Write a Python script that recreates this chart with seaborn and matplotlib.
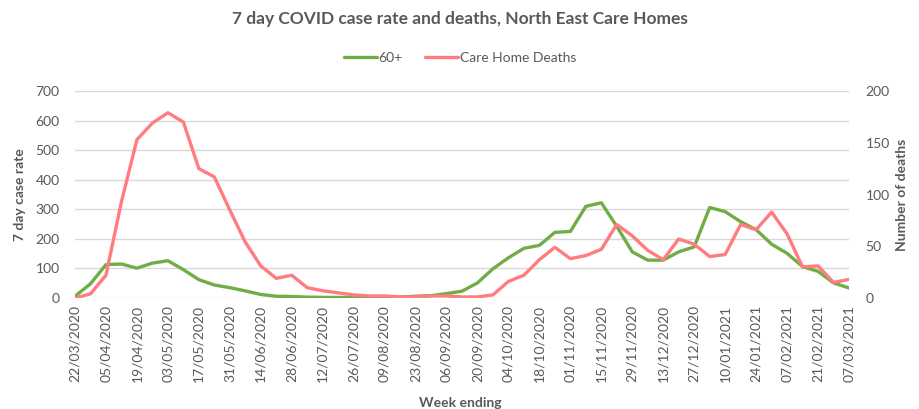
import numpy as np
import pandas as pd
import matplotlib
matplotlib.use("Agg")
import matplotlib.pyplot as plt
import matplotlib.dates as mdates
import seaborn as sns

# ---- data ----
week_ending = pd.date_range("2020-03-22", "2021-03-07", freq="7D")
case_rate_60plus = [6, 48, 113, 115, 101, 118, 126, 96, 62, 44,
                    35, 24, 12, 6, 5, 3, 2, 2, 2, 2,
                    2, 3, 6, 8, 15, 23, 51, 99, 136, 168,
                    178, 222, 225, 310, 322, 242, 156, 128, 128, 156,
                    173, 306, 292, 258, 231, 182, 151, 106, 90, 51,
                    34]
care_home_deaths = [0, 4, 22, 93, 153, 169, 179, 170, 125, 117,
                    85, 54, 31, 19, 22, 10, 7, 5, 3, 2,
                    2, 1, 1, 2, 2, 1, 1, 3, 16, 22,
                    37, 49, 38, 41, 47, 71, 60, 46, 37, 57,
                    52, 40, 42, 71, 66, 83, 62, 30, 31, 15,
                    18]
series_names = ["60+", "Care Home Deaths"]
title = "7 day COVID case rate and deaths, North East Care Homes"

df = pd.DataFrame({"week": week_ending,
                   "cases": case_rate_60plus,
                   "deaths": care_home_deaths})

# ---- style ----
sns.set_theme(style="white")
plt.rcParams["font.family"] = ["Lato", "DejaVu Sans"]
grey = "#595959"
green = "#70AD47"
red = "#FF7C80"

W, H = 919, 409
fig = plt.figure(figsize=(W / 100, H / 100), dpi=100)
ax = fig.add_axes([75 / W, 1 - 298 / H, (849 - 75) / W, (298 - 91) / H])
ax2 = ax.twinx()

sns.lineplot(data=df, x="week", y="cases", ax=ax, color=green, lw=2.4,
             label=series_names[0], legend=False)
sns.lineplot(data=df, x="week", y="deaths", ax=ax2, color=red, lw=2.4,
             label=series_names[1], legend=False)

ax.set_xlim(week_ending[0], week_ending[-1])
ax.set_ylim(0, 700)
ax2.set_ylim(0, 200)
ax.set_yticks(np.arange(0, 701, 100))
ax2.set_yticks(np.arange(0, 201, 50))
ax.set_xticks(week_ending[::2])
ax.set_xticklabels([d.strftime("%d/%m/%Y") for d in week_ending[::2]],
                   rotation=90, fontsize=10, color=grey)
ax.yaxis.grid(True, color="#d9d9d9", lw=1)
ax.xaxis.grid(False)
for a in (ax, ax2):
    for s in a.spines.values():
        s.set_visible(False)
ax.tick_params(axis="y", length=0, pad=11, labelsize=10, labelcolor=grey)
ax2.tick_params(axis="y", length=0, pad=12, labelsize=10, labelcolor=grey)
ax.tick_params(axis="x", length=0, pad=5)

ax.set_xlabel("")
ax.set_ylabel("")
ax2.set_ylabel("")
fig.text(20 / W, 1 - 195 / H, "7 day case rate", rotation=90, ha="center",
         va="center", fontsize=10, fontweight="bold", color=grey)
fig.text(902 / W, 1 - 195 / H, "Number of deaths", rotation=90, ha="center",
         va="center", fontsize=10, fontweight="bold", color=grey)
fig.text(460 / W, 1 - 403 / H, "Week ending", ha="center", va="center",
         fontsize=10, fontweight="bold", color=grey)
fig.text(460 / W, 1 - 19 / H, title, ha="center", va="center",
         fontsize=12.5, fontweight="bold", color=grey)

h1, l1 = ax.get_legend_handles_labels()
h2, l2 = ax2.get_legend_handles_labels()
fig.legend(h1 + h2, l1 + l2, loc="center", bbox_to_anchor=(460 / W, 1 - 58 / H),
           ncol=2, frameon=False, fontsize=10, handlelength=2.4,
           handletextpad=0.1, columnspacing=1.6, labelcolor=grey)

fig.savefig("out.png", dpi=100)
